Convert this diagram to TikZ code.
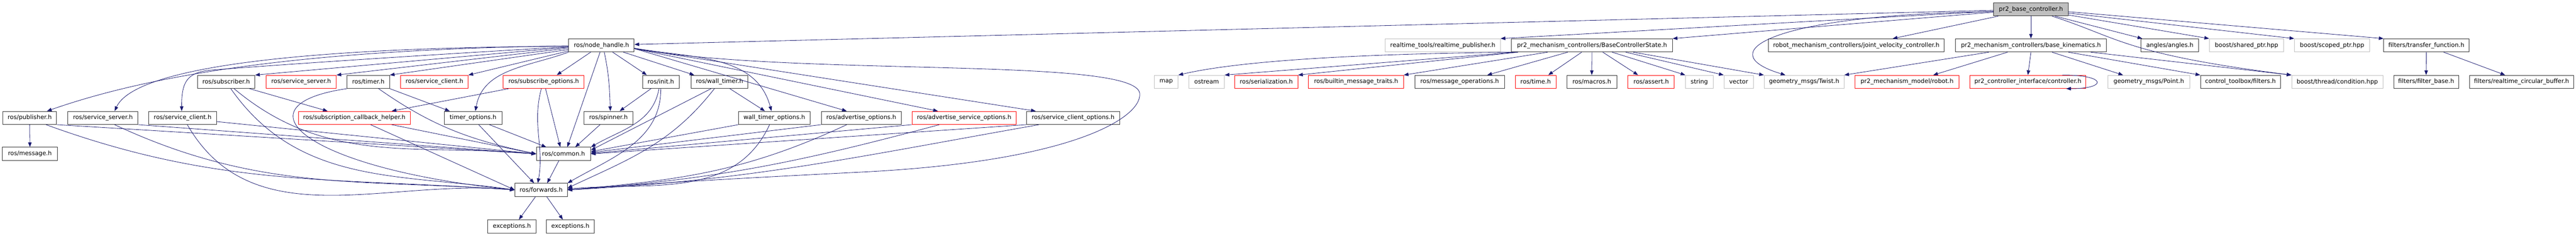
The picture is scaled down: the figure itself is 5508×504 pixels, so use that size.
\documentclass[tikz,border=0pt]{standalone}
\usepackage{fontspec}
\setmainfont{DejaVu Sans}
\usetikzlibrary{arrows.meta}
\definecolor{edgec}{HTML}{191970}
\definecolor{lgray}{HTML}{BFBFBF}
\begin{document}
\begin{tikzpicture}[x=1pt,y=-1pt,
 box/.style={draw=black!80, line width=1.1pt, minimum height=28pt, inner sep=0pt, font=\fontsize{12.8}{14}\selectfont, fill=white},
 rbox/.style={box, draw=red},
 gbox/.style={box, draw=lgray},
 e/.style={draw=edgec, line width=0.9pt, -{Triangle[length=10pt,width=7.5pt]}}]
\useasboundingbox (0,0) rectangle (5508,504);
% row 0
\node[box, fill=lgray, minimum width=159pt] (root) at (4342.5,20) {pr2\_base\_controller.h};
% row 1
\node[box, minimum width=140pt] (nh) at (1286,97) {ros/node\_handle.h};
\node[gbox, minimum width=246pt] (rtp) at (3085,97) {realtime\_tools/realtime\_publisher.h};
\node[box, minimum width=344pt] (bcs) at (3404,97) {pr2\_mechanism\_controllers/BaseControllerState.h};
\node[box, minimum width=376pt] (jvc) at (3969,97) {robot\_mechanism\_controllers/joint\_velocity\_controller.h};
\node[box, minimum width=323pt] (bk) at (4342.5,97) {pr2\_mechanism\_controllers/base\_kinematics.h};
\node[box, minimum width=123pt] (ang) at (4639.5,97) {angles/angles.h};
\node[gbox, minimum width=159pt] (shp) at (4803.5,97) {boost/shared\_ptr.hpp};
\node[gbox, minimum width=161pt] (scp) at (4986.5,97) {boost/scoped\_ptr.hpp};
\node[box, minimum width=182pt] (tf) at (5188,97) {filters/transfer\_function.h};
% row 2
\node[box, minimum width=123pt] (sub) at (483.5,175) {ros/subscriber.h};
\node[rbox, minimum width=150pt] (ssr) at (644,175) {ros/service\_server.h};
\node[box, minimum width=91pt] (tim) at (787.5,175) {ros/timer.h};
\node[rbox, minimum width=144pt] (scr) at (929,175) {ros/service\_client.h};
\node[rbox, minimum width=173pt] (sbo) at (1162.5,175) {ros/subscribe\_options.h};
\node[box, minimum width=78pt] (ini) at (1413,175) {ros/init.h};
\node[box, minimum width=121pt] (wt) at (1538.5,175) {ros/wall\_timer.h};
\node[gbox, minimum width=51pt] (map) at (2493.5,175) {map};
\node[gbox, minimum width=76pt] (ost) at (2580,175) {ostream};
\node[rbox, minimum width=135pt] (ser) at (2707.5,175) {ros/serialization.h};
\node[rbox, minimum width=203pt] (bmt) at (2899.5,175) {ros/builtin\_message\_traits.h};
\node[box, minimum width=192pt] (mop) at (3121,175) {ros/message\_operations.h};
\node[rbox, minimum width=87pt] (rtime) at (3283.5,175) {ros/time.h};
\node[box, minimum width=107pt] (mac) at (3403.5,175) {ros/macros.h};
\node[rbox, minimum width=99pt] (ast) at (3530.5,175) {ros/assert.h};
\node[gbox, minimum width=59pt] (str) at (3633.5,175) {string};
\node[gbox, minimum width=63pt] (vec) at (3717.5,175) {vector};
\node[gbox, minimum width=171pt] (tw) at (3857.5,175) {geometry\_msgs/Twist.h};
\node[rbox, minimum width=223pt] (rob) at (4077.5,175) {pr2\_mechanism\_model/robot.h};
\node[rbox, minimum width=248pt] (ctl) at (4336,175) {pr2\_controller\_interface/controller.h};
\node[gbox, minimum width=175pt] (pt) at (4594.5,175) {geometry\_msgs/Point.h};
\node[box, minimum width=171pt] (ctf) at (4790.5,175) {control\_toolbox/filters.h};
\node[gbox, minimum width=195pt] (cond) at (4997.5,175) {boost/thread/condition.hpp};
\node[box, minimum width=139pt] (fb) at (5187.5,175) {filters/filter\_base.h};
\node[box, minimum width=223pt] (rcb) at (5391.5,175) {filters/realtime\_circular\_buffer.h};
% row 3
\node[box, minimum width=115pt] (pub) at (63.5,252) {ros/publisher.h};
\node[box, minimum width=150pt] (ss) at (220,252) {ros/service\_server.h};
\node[box, minimum width=145pt] (sc) at (390.5,252) {ros/service\_client.h};
\node[rbox, minimum width=239pt] (sch) at (757.5,252) {ros/subscription\_callback\_helper.h};
\node[box, minimum width=123pt] (to) at (1011.5,252) {timer\_options.h};
\node[box, minimum width=104pt] (spn) at (1301,252) {ros/spinner.h};
\node[box, minimum width=153pt] (wto) at (1655.5,252) {wall\_timer\_options.h};
\node[box, minimum width=171pt] (ado) at (1841.5,252) {ros/advertise\_options.h};
\node[rbox, minimum width=223pt] (aso) at (2061.5,252) {ros/advertise\_service\_options.h};
\node[box, minimum width=199pt] (sco) at (2294.5,252) {ros/service\_client\_options.h};
% row 4
\node[box, minimum width=118pt] (msg) at (64,329) {ros/message.h};
\node[box, minimum width=116pt] (com) at (1205,329) {ros/common.h};
% row 5
\node[box, minimum width=112pt] (fw) at (1157,406) {ros/forwards.h};
% row 6
\node[box, minimum width=103pt] (ex1) at (1094.5,484) {exceptions.h};
\node[box, minimum width=103pt] (ex2) at (1219.5,484) {exceptions.h};

% ---- edges from root
\draw[e] ([yshift=-2pt]root.west) -- ([yshift=2pt]nh.east);
\draw[e] ([yshift=-4pt]root.west) -- (rtp.north east);
\draw[e] ([yshift=-6pt]root.west) -- (bcs.north east);
\draw[e] ([yshift=-5pt]root.west) .. controls (3800,30) and (3650,110) .. ([xshift=-40pt]tw.north);
\draw[e] ([xshift=-70pt]root.south) -- ([xshift=78pt]jvc.north);
\draw[e] (root.south) -- (bk.north);
\draw[e] ([xshift=52pt]root.south) -- ([xshift=-59pt]ang.north);
\draw[e] ([yshift=-12pt]root.east) -- (shp.north west);
\draw[e] ([yshift=-8pt]root.east) -- (scp.north west);
\draw[e] ([yshift=-5pt]root.east) -- (tf.north west);
\draw[e] ([xshift=45pt]root.south) .. controls (4530,80) and (4540,115) .. (cond.north west);
% ---- base_kinematics
\draw[e] (bk.south) -- (ctl.north);
\draw[e] ([xshift=-90pt]bk.south) -- (tw.north east);
\draw[e] ([xshift=-50pt]bk.south) -- ([xshift=56pt]rob.north);
\draw[e] ([xshift=45pt]bk.south) -- ([xshift=-55pt]pt.north);
\draw[e] ([xshift=80pt]bk.south) -- (ctf.north west);
\draw[e] ([xshift=128pt]bk.south) -- (cond.north west);
\draw[e] ([xshift=74pt]ctl.north) .. controls ([xshift=170pt]ctl.north) and ([xshift=170pt]ctl.south) .. ([xshift=82pt]ctl.south);
% ---- transfer function
\draw[e] (tf.south) -- (fb.north);
\draw[e] ([xshift=37pt]tf.south) -- ([xshift=-35pt]rcb.north);
% ---- BaseControllerState
\draw[e] ([xshift=-165pt]bcs.south) .. controls (2900,115) and (2650,130) .. (map.north east);
\draw[e] ([xshift=-162pt]bcs.south) -- (ost.north east);
\draw[e] ([xshift=-158pt]bcs.south) -- (ser.north east);
\draw[e] ([xshift=-95pt]bcs.south) -- (bmt.north east);
\draw[e] ([xshift=-52pt]bcs.south) -- ([xshift=59pt]mop.north);
\draw[e] ([xshift=-22pt]bcs.south) -- ([xshift=27pt]rtime.north);
\draw[e] (bcs.south) -- (mac.north);
\draw[e] ([xshift=23pt]bcs.south) -- ([xshift=-28pt]ast.north);
\draw[e] ([xshift=43pt]bcs.south) -- (str.north west);
\draw[e] ([xshift=72pt]bcs.south) -- (vec.north west);
\draw[e] ([xshift=88pt]bcs.south) -- (tw.north west);
% ---- node_handle
\draw[e] ([yshift=-1pt]nh.west) .. controls (700,105) and (350,150) .. ([xshift=37pt]pub.north);
\draw[e] ([yshift=-2pt]nh.west) .. controls (850,100) and (300,120) .. ([xshift=25pt]ss.north);
\draw[e] ([yshift=-3pt]nh.west) .. controls (900,118) and (600,138) .. (450,150) .. controls (400,155) and (388,175) .. ([xshift=-2pt]sc.north);
\draw[e] ([yshift=-4pt]nh.west) -- (sub.north east);
\draw[e] ([yshift=-6pt]nh.west) -- (ssr.north east);
\draw[e] ([yshift=-9pt]nh.west) -- (tim.north east);
\draw[e] ([yshift=-12pt]nh.west) -- (scr.north east);
\draw[e] (nh.south west) to[out=200,in=80] ([xshift=5pt]to.north);
\draw[e] ([xshift=-23pt]nh.south) -- ([xshift=28pt]sbo.north);
\draw[e] ([xshift=-3pt]nh.south) -- ([xshift=8pt]com.north);
\draw[e] ([xshift=6pt]nh.south) to[out=-78,in=92] ([xshift=4pt]spn.north);
\draw[e] ([xshift=24pt]nh.south) -- ([xshift=-30pt]ini.north);
\draw[e] ([xshift=47pt]nh.south) -- ([xshift=-54pt]wt.north);
\draw[e] ([yshift=-6pt]nh.east) to[out=-10,in=105] ([xshift=-6pt]wto.north);
\draw[e] ([yshift=-7pt]nh.east) -- ([xshift=-31pt]ado.north);
\draw[e] ([yshift=-7pt]nh.east) -- ([xshift=-56pt]aso.north);
\draw[e] ([yshift=-7pt]nh.east) -- ([xshift=-80pt]sco.north);
\draw[e] ([yshift=-7pt]nh.east) .. controls (1700,165) and (2430,120) .. (2437,200) .. controls (2441,250) and (2300,345) .. (1840,368) .. controls (1500,385) and (1350,395) .. (fw.east);
% ---- publisher etc
\draw[e] (pub.south) -- (msg.north);
\draw[e] (pub.south east) -- (com.west);
\draw[e] ([xshift=35pt]pub.south) to[out=-20,in=176] (fw.west);
\draw[e] (ss.south east) -- (com.west);
\draw[e] ([xshift=25pt]ss.south) to[out=-25,in=176] (fw.west);
\draw[e] ([yshift=-8pt]sc.east) -- (com.west);
\draw[e] ([xshift=10pt]sc.south) to[out=-60,in=175] (fw.west);
\draw[e] ([xshift=50pt]sub.south) -- ([xshift=-57pt]sch.north);
\draw[e] ([xshift=17pt]sub.south) to[out=-40,in=175] (com.west);
\draw[e] ([xshift=10pt]sub.south) to[out=-55,in=172] (fw.west);
\draw[e] (tim.south west) .. controls (500,225) and (650,360) .. (fw.west);
\draw[e] ([xshift=22pt]tim.south) to[out=-35,in=168] (com.west);
\draw[e] (tim.south east) -- ([xshift=-50pt]to.north);
\draw[e] ([xshift=80pt]sch.south) -- (com.west);
\draw[e] ([xshift=35pt]sch.south) -- (fw.west);
\draw[e] ([xshift=-75pt]sbo.south) -- ([xshift=80pt]sch.north);
\draw[e] ([xshift=4pt]sbo.south) -- ([xshift=-7pt]com.north);
\draw[e] ([xshift=-5pt]sbo.south) to[out=-105,in=80] ([xshift=-7pt]fw.north);
\draw[e] ([xshift=35pt]to.south) -- ([xshift=-37pt]com.north);
\draw[e] ([xshift=12pt]to.south) -- ([xshift=-15pt]fw.north);
\draw[e] ([xshift=-18pt]spn.south) -- ([xshift=25pt]com.north);
\draw[e] ([xshift=-21pt]ini.south) -- ([xshift=24pt]spn.north);
\draw[e] ([xshift=-4pt]ini.south) to[out=-100,in=30] (com.north east);
\draw[e] (ini.south) to[out=-90,in=30] (fw.north east);
\draw[e] ([xshift=22pt]wt.south) -- ([xshift=-20pt]wto.north);
\draw[e] ([xshift=-18pt]wt.south) -- ([yshift=8pt]com.east);
\draw[e] ([xshift=-11pt]wt.south) to[out=-128,in=25] ([yshift=4pt]fw.east);
\draw[e] (wto.south west) -- ([yshift=5pt]com.east);
\draw[e] ([xshift=-10pt]wto.south) to[out=-115,in=5] ([yshift=2pt]fw.east);
\draw[e] (ado.south west) -- ([yshift=3pt]com.east);
\draw[e] ([xshift=-31pt]ado.south) to[out=-155,in=5] (fw.east);
\draw[e] (aso.south west) -- ([yshift=1pt]com.east);
\draw[e] ([xshift=-53pt]aso.south) to[out=-165,in=4] (fw.east);
\draw[e] (sco.south west) -- (com.east);
\draw[e] ([xshift=-73pt]sco.south) to[out=-170,in=3] (fw.east);
\draw[e] ([xshift=-10pt]com.south) -- ([xshift=13pt]fw.north);
\draw[e] ([xshift=-12pt]fw.south) -- ([xshift=15pt]ex1.north);
\draw[e] ([xshift=12pt]fw.south) -- ([xshift=-16pt]ex2.north);
\end{tikzpicture}
\end{document}
